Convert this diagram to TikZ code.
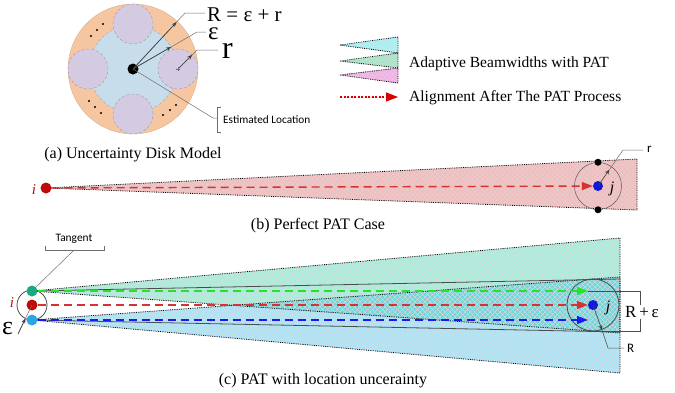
\documentclass[tikz,border=0pt]{standalone}
\usepackage{fontspec}
\setmainfont{Liberation Serif}
\newfontfamily\sansf{Carlito}
\usetikzlibrary{arrows.meta,patterns,calc}

\pgfdeclarepatternformonly{xhatch}{\pgfqpoint{-0.5pt}{-0.5pt}}{\pgfqpoint{5.5pt}{5.5pt}}{\pgfqpoint{5pt}{5pt}}{%
  \pgfsetlinewidth{0.3pt}%
  \pgfpathmoveto{\pgfqpoint{0pt}{0pt}}\pgfpathlineto{\pgfqpoint{5pt}{5pt}}%
  \pgfpathmoveto{\pgfqpoint{0pt}{5pt}}\pgfpathlineto{\pgfqpoint{5pt}{0pt}}%
  \pgfusepath{stroke}}

\definecolor{orng}{RGB}{246,198,160}
\definecolor{lblue}{RGB}{200,221,236}
\definecolor{lpurp}{RGB}{212,202,226}
\definecolor{beampink}{RGB}{242,190,190}
\definecolor{hatchc}{RGB}{222,214,218}
\definecolor{wgreen}{RGB}{170,238,220}
\definecolor{wcyan}{RGB}{172,230,248}
\definecolor{wover}{RGB}{118,216,218}
\definecolor{lgcyan}{RGB}{165,244,248}
\definecolor{lggreen}{RGB}{165,230,200}
\definecolor{lgpink}{RGB}{244,176,232}
\definecolor{ired}{RGB}{190,10,10}
\definecolor{arred}{RGB}{215,0,0}
\definecolor{dashred}{RGB}{215,50,50}
\definecolor{tgreen}{RGB}{25,170,130}
\definecolor{dashgreen}{RGB}{40,225,40}
\definecolor{bdot}{RGB}{45,165,225}
\definecolor{dashblue}{RGB}{25,25,240}
\definecolor{jblue}{RGB}{15,25,215}
\definecolor{leadc}{RGB}{110,110,110}

\begin{document}
\begin{tikzpicture}[x=1pt,y=-1pt,
  lead/.style={draw=leadc, line width=0.5pt},
  leadarr/.style={draw=black!75, line width=0.6pt, -{Stealth[length=5pt,width=4pt]}},
  purp/.style={circle, fill=lpurp, draw=gray!75, densely dashed, line width=0.4pt, minimum size=40pt, inner sep=0},
  dot/.style={circle, inner sep=0, minimum size=#1},
  dot/.default=11pt,
  border/.style={draw=black, densely dotted, line width=0.8pt},
  hatch/.style={pattern=xhatch, pattern color=hatchc},
  captxt/.style={font=\fontsize{16}{18}\selectfont, inner sep=0},
  sans/.style={font=\sansf\fontsize{#1}{#1}\selectfont, inner sep=0},
  dasharr/.style={dash pattern=on 8pt off 5pt, line width=1.4pt, -{Triangle[length=11pt,width=8pt]}}
]
\useasboundingbox (0,0) rectangle (675,392);

% ---------------- (a) uncertainty disk ----------------
\node[circle, fill=orng, draw=orng!85!black, line width=0.3pt, minimum size=130pt, inner sep=0] (outer) at (133,69) {};
\node[circle, fill=lblue, draw=gray!70, densely dashed, line width=0.4pt, minimum size=88pt, inner sep=0] (mid) at (133,69) {};
\node[purp] (ptop) at (133,24) {};
\node[purp] (pbot) at (133,114) {};
\node[purp] (plft) at (88,69) {};
\node[purp] (prt) at (178,69) {};
\node[dot=11pt, fill=black] (cen) at (133,69) {};
\foreach \p in {(91,36),(97,30),(103,24),(89,101),(95,107),(101,113),(163,115),(170,110),(176,105)}
  \fill[black] \p circle (1.1);

\node[anchor=base west, font=\fontsize{21}{21}\selectfont, inner sep=0] (Rlab) at (207,21) {R = ε + r};
\node[anchor=base west, font=\fontsize{25}{25}\selectfont, inner sep=0] (Elab) at (208,39.5) {ε};
\node[anchor=base west, font=\fontsize{32}{32}\selectfont, inner sep=0] (rlab) at (222,58) {r};

\coordinate (Rk) at (185,13);
\coordinate (Re) at (205,13);
\coordinate (Ek) at (197,32);
\coordinate (Ee) at (206,32);
\coordinate (rk) at (197,50);
\coordinate (re) at (218,50);
\draw[lead] (Re) -- (Rk) -- (cen.center);
\draw[lead] (Ee) -- (Ek) -- (cen.center);
\draw[lead] (re) -- (rk) -- (prt.center);
\draw[leadarr] (cen.center) -- ($(cen.center)!64pt!(Rk)$);
\draw[leadarr] (cen.center) -- ($(cen.center)!44pt!(Ek)$);
\draw[leadarr] (prt.center) -- ($(prt.center)!20pt!(rk)$);
\draw[leadc, line width=0.4pt] (176,69) -- (180,69) (178,67) -- (178,71);

\coordinate (elk) at (213,118);
\draw[lead] (cen.center) -- (elk) -- (217,118);
\draw[lead] (221,107) -- (217,107) -- (217,132) -- (221,132);
\node[sans=11.3, anchor=west] (estl) at (223,120) {Estimated Location};

\node[captxt] (capa) at (133,155) {(a) Uncertainty Disk Model};

% ---------------- legend ----------------
\path[fill=lgcyan] (340,45) -- (398,37) -- (398,53) -- cycle;
\path[fill=lggreen] (340,61) -- (398,53) -- (398,68) -- cycle;
\path[fill=lgpink] (340,75) -- (398,68) -- (398,83) -- cycle;
\path[hatch] (340,45) -- (398,37) -- (398,53) -- cycle;
\path[hatch] (340,61) -- (398,53) -- (398,68) -- cycle;
\path[hatch] (340,75) -- (398,68) -- (398,83) -- cycle;
\draw[border] (340,45) -- (398,37) -- (398,53) -- cycle;
\draw[border] (340,61) -- (398,53) -- (398,68) -- cycle;
\draw[border] (340,75) -- (398,68) -- (398,83) -- cycle;
\node[anchor=base west, font=\fontsize{15.5}{17}\selectfont, inner sep=0] (lg1) at (409,67) {Adaptive Beamwidths with PAT};
\coordinate (la1) at (340,97);
\coordinate (la2) at (398,97);
\draw[draw=arred, fill=arred, dash pattern=on 2pt off 1.5pt, line width=1.1pt, -{Triangle[length=12pt,width=9pt]}] (la1) -- (la2);
\node[anchor=base west, font=\fontsize{15.5}{17}\selectfont, inner sep=0] (lg2) at (409,101) {Alignment After The PAT Process};

% ---------------- (b) perfect PAT ----------------
\coordinate (ibc) at (46,188);
\coordinate (bt) at (637,159);
\coordinate (bb) at (637,210);
\path[fill=beampink] (ibc) -- (bt) -- (bb) -- cycle;
\path[hatch] (ibc) -- (bt) -- (bb) -- cycle;
\draw[border] (ibc) -- (bt) -- (bb) -- cycle;
\node[circle, draw=black!65, line width=0.5pt, minimum size=47pt, inner sep=0] (jcb) at (598,186) {};
\node[dot=7pt, fill=black] (jtop) at (jcb.north) {};
\node[dot=7pt, fill=black] (jbot) at (jcb.south) {};
\node[dot=11pt, fill=ired] (ib) at (ibc) {};
\node[dot=10pt, fill=jblue] (jb) at (598,186) {};
\draw[dashred, dasharr] (ib) -- (jb);
\node[font=\itshape\fontsize{15}{15}\selectfont, text=ired, inner sep=0] (il) at (34,190) {i};
\node[font=\itshape\fontsize{16}{16}\selectfont, inner sep=0] (jl) at (612,189) {j};
\coordinate (rk2) at (623,150);
\coordinate (re2) at (643,150);
\draw[lead] ($(jb.center)!20pt!(rk2)$) -- (rk2) -- (re2);
\draw[leadarr] (jb.center) -- ($(jb.center)!20pt!(rk2)$);
\node[sans=13, anchor=west] (rl2) at (647,149) {r};
\node[captxt] (capb) at (318,226) {(b) Perfect PAT Case};

% ---------------- (c) PAT with location uncertainty ----------------
\coordinate (gc) at (32,291);
\coordinate (rc) at (32,305);
\coordinate (bc) at (32,320);
\coordinate (gt) at (620,238);
\coordinate (gb) at (620,333);
\coordinate (ct) at (620,277);
\coordinate (cb) at (620,373);
\path[fill=wcyan] (bc) -- (ct) -- (cb) -- cycle;
\path[fill=wgreen] (gc) -- (gt) -- (gb) -- cycle;
\begin{scope}
  \clip (gc) -- (gt) -- (gb) -- cycle;
  \fill[wover] (bc) -- (ct) -- (cb) -- cycle;
\end{scope}
\path[hatch] (bc) -- (ct) -- (cb) -- cycle;
\path[hatch] (gc) -- (gt) -- (gb) -- cycle;
\draw[border] (bc) -- (ct) -- (cb) -- cycle;
\draw[border] (gc) -- (gt) -- (gb) -- cycle;
\coordinate (st) at (620,279);
\coordinate (sb) at (620,332);
\draw[black!70, line width=0.8pt] (gc) -- (st);
\draw[black!70, line width=0.8pt] (bc) -- (sb);

\node[circle, draw=black!70, line width=0.8pt, minimum size=30pt, inner sep=0] (icirc) at (rc) {};
\node[circle, draw=black!70, line width=0.8pt, minimum size=52pt, inner sep=0] (jcirc) at (593,305) {};

\node[dot=11pt, fill=tgreen] (gdot) at (gc) {};
\node[dot=11pt, fill=ired] (rdot) at (rc) {};
\node[dot=11pt, fill=bdot] (bdotn) at (bc) {};
\node[dot=10pt, fill=jblue] (jc) at (593,305) {};

\coordinate (ga) at (588,291);
\coordinate (ra) at (588,305);
\coordinate (ba) at (588,320);
\draw[dashgreen, dasharr] (gdot) -- (ga);
\draw[dashred, dasharr] (rdot) -- (ra);
\draw[dashblue, dasharr] (bdotn) -- (ba);

\node[font=\itshape\fontsize{15}{15}\selectfont, text=ired, inner sep=0] (il2) at (12,303) {i};
\node[font=\itshape\fontsize{16}{16}\selectfont, inner sep=0] (jl2) at (608,308) {j};

% R + eps bracket
\draw[black!70, line width=0.6pt] (ga) -- (640,291) -- (640,331) -- (600,331);
\node[fill=white, font=\fontsize{17}{17}\selectfont, inner sep=1pt] (RE) at (642,312) {R\,+\,ε};

% R leader
\coordinate (Rp) at (602,330);
\draw[leadarr] (jc.center) -- (Rp);
\draw[lead, draw=black!70] (Rp) -- (608,348) -- (624,348);
\node[sans=13, anchor=west] (Rl) at (627,348) {R};

% eps leader (c)
\node[anchor=base west, font=\fontsize{26}{26}\selectfont, inner sep=0] (Elab2) at (2,334) {ε};
\coordinate (ek2) at (18,334);
\draw[lead] (ek2) -- (rdot.center);
\draw[leadarr] (ek2) -- ($(rdot.center)!15pt!(ek2)$);

% tangent callout
\node[sans=11.4] (tang) at (74,239) {Tangent};
\draw[lead] (45,246) -- (45,250) -- (104,250) -- (104,246);
\coordinate (tk) at (74,250);
\draw[lead] (tk) -- (gdot);

\node[captxt] (capc) at (323,381) {(c) PAT with location uncerainty};
\end{tikzpicture}
\end{document}
